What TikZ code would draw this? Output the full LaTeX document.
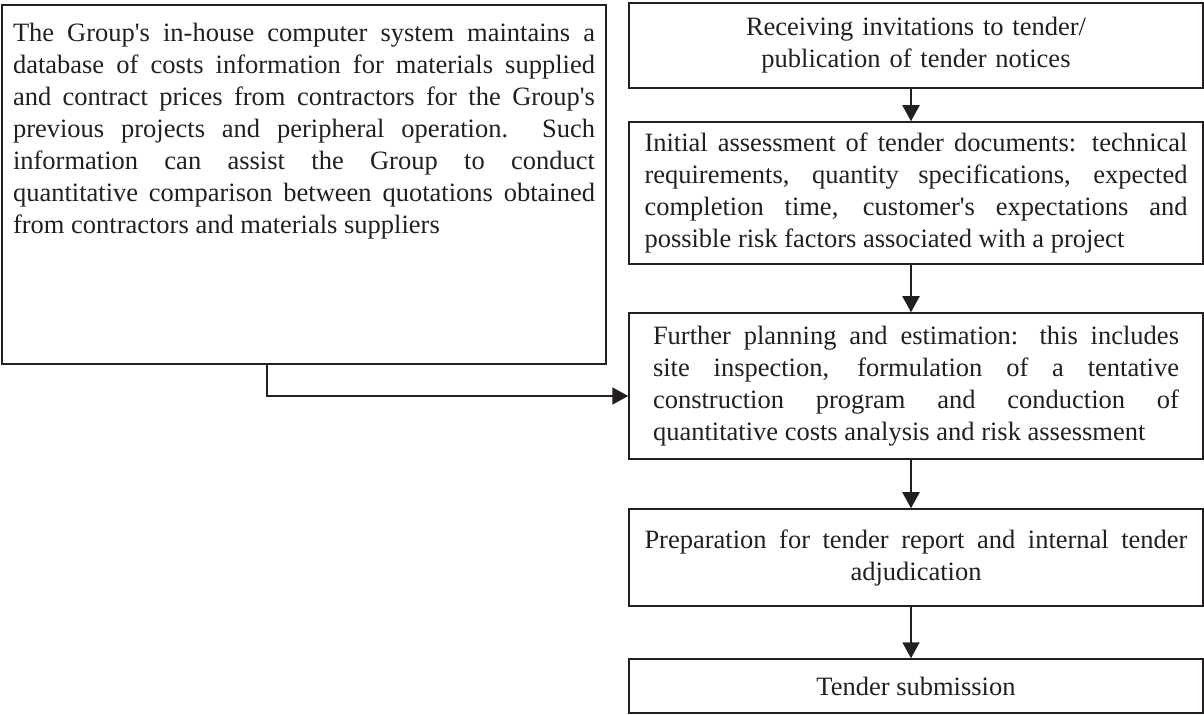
\documentclass[tikz,border=0pt]{standalone}
\usepackage{fontspec}
\setmainfont{Liberation Serif}[Ligatures=TeXOff]
\usetikzlibrary{arrows.meta}
\definecolor{inkline}{HTML}{231F20}
\tikzset{
  bodyfont/.style={font=\fontsize{13.25pt}{16pt}\selectfont, text=inkline},
  infobox/.style={bodyfont, draw=inkline, line width=0.6pt, inner xsep=5.5pt, inner ysep=0pt},
  stage/.style={bodyfont, draw=inkline, line width=0.75pt, minimum width=287pt, inner xsep=0pt},
  flow/.style={-{Triangle[length=8pt,width=8.5pt]}, draw=inkline, line width=1pt},
}
\begin{document}
\begin{tikzpicture}[x=0.5pt,y=-0.5pt]
  \useasboundingbox (0,0) rectangle (1204,715);
  \node[infobox] (info) at (304,184.5) {\parbox[t][179.5pt][t]{291pt}{\rule{0pt}{18.5pt}The Group's in-house computer system maintains a\linebreak
    database of costs information for materials supplied\linebreak
    and contract prices from contractors for the Group's\linebreak
    previous projects and peripheral operation.\ \ Such\linebreak
    information can assist the Group to conduct\linebreak
    quantitative comparison between quotations obtained\linebreak
    from contractors and materials suppliers}};
  \node[stage, minimum height=42.5pt, text width=287pt, align=center] (invite) at (916,45.5)
    {Receiving invitations to tender/\\publication of tender notices};
  \node[stage, minimum height=71pt, text width=271.5pt, align=justify] (assess) at (916,193)
    {Initial assessment of tender documents: technical\linebreak
    requirements, quantity specifications, expected\linebreak
    completion time, customer's expectations and\linebreak
    possible risk factors associated with a project};
  \node[stage, minimum height=73pt, text width=263pt, align=justify] (plan) at (916,386)
    {Further planning and estimation: this includes\linebreak
    site inspection, formulation of a tentative\linebreak
    construction program and conduction of\linebreak
    quantitative costs analysis and risk assessment};
  \node[stage, minimum height=48.5pt, text width=271.5pt, align=center] (report) at (916,557.5)
    {\makebox[271.5pt][s]{\spaceskip=0pt \xspaceskip=0pt Preparation for tender report and internal tender}\\adjudication};
  \node[stage, minimum height=27pt] (submit) at (916,686) {Tender submission};

  \draw[flow] ([xshift=-2.5pt]invite.south) -- ([xshift=-2.5pt]assess.north);
  \draw[flow] ([xshift=-2.5pt]assess.south) -- ([xshift=-2.5pt]plan.north);
  \draw[flow] ([xshift=-2.5pt]plan.south) -- ([xshift=-2.5pt]report.north);
  \draw[flow] ([xshift=-2.5pt]report.south) -- ([xshift=-2.5pt]submit.north);
  \coordinate (feed) at (267,396);
  \draw[flow] (feed |- info.south) -- (feed) -- (feed -| plan.west);
\end{tikzpicture}
\end{document}
